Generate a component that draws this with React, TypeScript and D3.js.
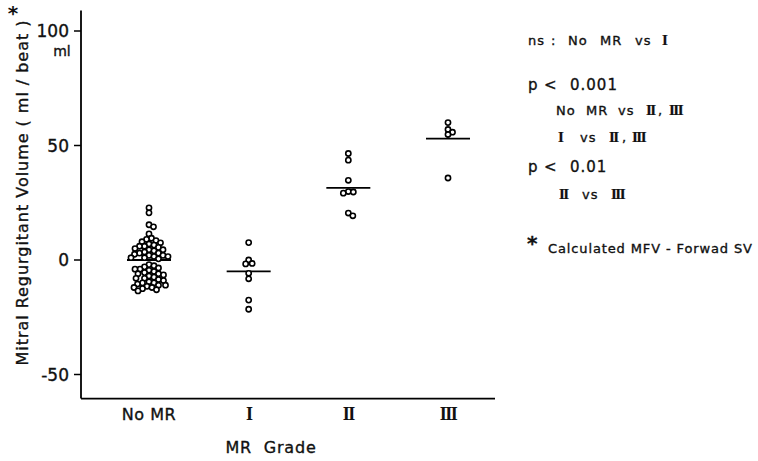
import React from 'react';
import * as d3 from 'd3';

const categories = ['No MR', 'I', 'II', 'III'];
const noMR = [
  22.8, 20.6, 15.4, 14.5, 11.4, 9.5, 9, 8.5, 8, 7.5, 7, 6.5, 6, 6, 5.5, 5, 4.5, 4.5, 4, 3.5, 3, 3, 2.5, 2, 2, 1.5, 1.5, 1, 1, 0.5,
  -2, -2.5, -3, -3.5, -4, -4, -4.5, -5, -5.5, -6, -6, -6.5, -7, -7.5, -8, -8, -8.5, -9, -9.5, -10, -10, -10.5, -11, -11, -11.5,
  -12, -12, -12.5, -13, -13.5,
];
const grade1 = [7.6, 0, -1.7, -1.5, -5.8, -8.2, -17.5, -21.5];
const grade2 = [46.5, 43.6, 34.8, 29.7, 29.2, 29.9, 19.3, 20.5];
const grade3 = [60, 57, 55.8, 54.8, 35.8];
const groups = [noMR, grade1, grade2, grade3];
const groupMeans = [0, -5, 31.5, 53];
const yTicks = [100, 50, 0, -50];

const W = 758;
const H = 461;
const R = 2.6;

type Seg = [string, number, boolean?];

function swarm(values: number[], cx: number, y: (v: number) => number) {
  const placed: { x: number; y: number }[] = [];
  const sorted = [...values].sort((a, b) => b - a);
  const minD = 4.9;
  for (const v of sorted) {
    const py = y(v);
    let chosen = cx;
    for (let k = 0; k < 200; k++) {
      const off = k === 0 ? 0 : (k % 2 === 1 ? 1 : -1) * Math.ceil(k / 2) * 0.5;
      const px = cx + off;
      const ok = placed.every((p) => (p.x - px) ** 2 + (p.y - py) ** 2 >= minD * minD);
      if (ok) {
        chosen = px;
        break;
      }
    }
    placed.push({ x: chosen, y: py });
  }
  return placed;
}

export default function App() {
  const y = d3.scaleLinear().domain([-50, 100]).range([374.5, 31]);
  const x = d3.scalePoint<string>().domain(categories).range([149, 448]);
  const axisX0 = 81;
  const axisY0 = y(-60.5);
  const axisTop = y(109);
  const font = "'DejaVu Sans', sans-serif";
  const roman = "'Liberation Serif', serif";
  const bold = { stroke: '#111', strokeWidth: 0.35 };

  const line = (segs: Seg[], yy: number, fs = 13) => (
    <text y={yy} fontSize={fs}>
      {segs.map(([t, xx, r], i) =>
        r ? (
          <tspan key={i} x={xx} fontFamily={roman} fontWeight="bold" fontSize={15} letterSpacing={-1.5} strokeWidth={0.2}>
            {t}
          </tspan>
        ) : (
          <tspan key={i} x={xx} letterSpacing={1}>
            {t}
          </tspan>
        ),
      )}
    </text>
  );

  return (
    <svg width={W} height={H} style={{ position: 'absolute', left: 0, top: 0, background: '#fff' }}>
      <rect width={W} height={H} fill="#fff" />
      {/* axes */}
      <line x1={axisX0} y1={axisTop} x2={axisX0} y2={axisY0} stroke="#000" strokeWidth={1.8} />
      <line x1={axisX0} y1={axisY0} x2={495} y2={axisY0} stroke="#000" strokeWidth={1.8} />
      {yTicks.map((t) => (
        <g key={t}>
          <line x1={axisX0 - 7} x2={axisX0} y1={y(t)} y2={y(t)} stroke="#000" strokeWidth={1.5} />
          <text x={69} y={y(t)} dy="0.36em" textAnchor="end" fontFamily={font} fontSize={17} fill="#111" {...bold}>
            {t < 0 ? `-${Math.abs(t)}` : t}
          </text>
        </g>
      ))}
      <text x={62} y={51} dy="0.36em" textAnchor="middle" fontFamily={font} fontSize={14} fill="#111" {...bold}>ml</text>
      {/* y label */}
      <text
        transform={`translate(22,${193}) rotate(-90)`}
        textAnchor="middle"
        dy="0.36em"
        fontFamily={font}
        fontSize={16}
        fill="#111"
        textLength={345}
        lengthAdjust="spacing"
        {...bold}
      >
        Mitral Regurgitant Volume ( ml / beat )
      </text>
      <text x={13} y={20} textAnchor="middle" fontFamily={font} fontWeight="bold" fontSize={20} fill="#111">*</text>

      {/* points */}
      {groups.map((vals, gi) => {
        const cx = x(categories[gi])!;
        const pts = swarm(vals, cx, y);
        const m = groupMeans[gi];
        return (
          <g key={gi}>
            <line x1={cx - 22} x2={cx + 22} y1={y(m)} y2={y(m)} stroke="#000" strokeWidth={1.8} />
            {pts.map((p, i) => (
              <circle key={i} cx={p.x} cy={p.y} r={R} fill="#fff" stroke="#000" strokeWidth={1.6} />
            ))}
          </g>
        );
      })}

      {/* x labels */}
      {categories.map((c) => (
        <text key={c} x={x(c)!} y={414} dy="0.36em" textAnchor="middle" fontFamily={c === 'No MR' ? font : roman}
          fontWeight={c === 'No MR' ? 'normal' : 'bold'} letterSpacing={c === 'No MR' ? 0.5 : -1.5}
          fontSize={c === 'No MR' ? 16 : 18} fill="#111" {...(c === 'No MR' ? bold : {})}>
          {c}
        </text>
      ))}
      <text x={271} y={447} dy="0.36em" textAnchor="middle" fontFamily={font} fontSize={16} fill="#111"
        letterSpacing={0.8} wordSpacing={6} {...bold}>
        MR Grade
      </text>

      {/* annotations */}
      <g fontFamily={font} fill="#111" {...bold}>
        {line([['ns', 528], [':', 551], ['No', 568], ['MR', 600], ['vs', 635], ['I', 662, true]], 45)}
        {line([['p', 528], ['<', 544], ['0.001', 570]], 90, 15)}
        {line([['No', 556], ['MR', 586], ['vs', 618], ['II', 646, true], [',', 658], ['III', 669, true]], 115)}
        {line([['I', 558, true], ['vs', 580], ['II', 609, true], [',', 622], ['III', 632, true]], 142)}
        {line([['p', 528], ['<', 544], ['0.01', 570]], 172, 15)}
        {line([['II', 559, true], ['vs', 582], ['III', 611, true]], 199)}
        <text x={527} y={250} fontSize={20} fontWeight="bold">*</text>
        <text x={548} y={253} fontSize={13} textLength={204} lengthAdjust="spacing">Calculated MFV - Forwad SV</text>
      </g>
    </svg>
  );
}
